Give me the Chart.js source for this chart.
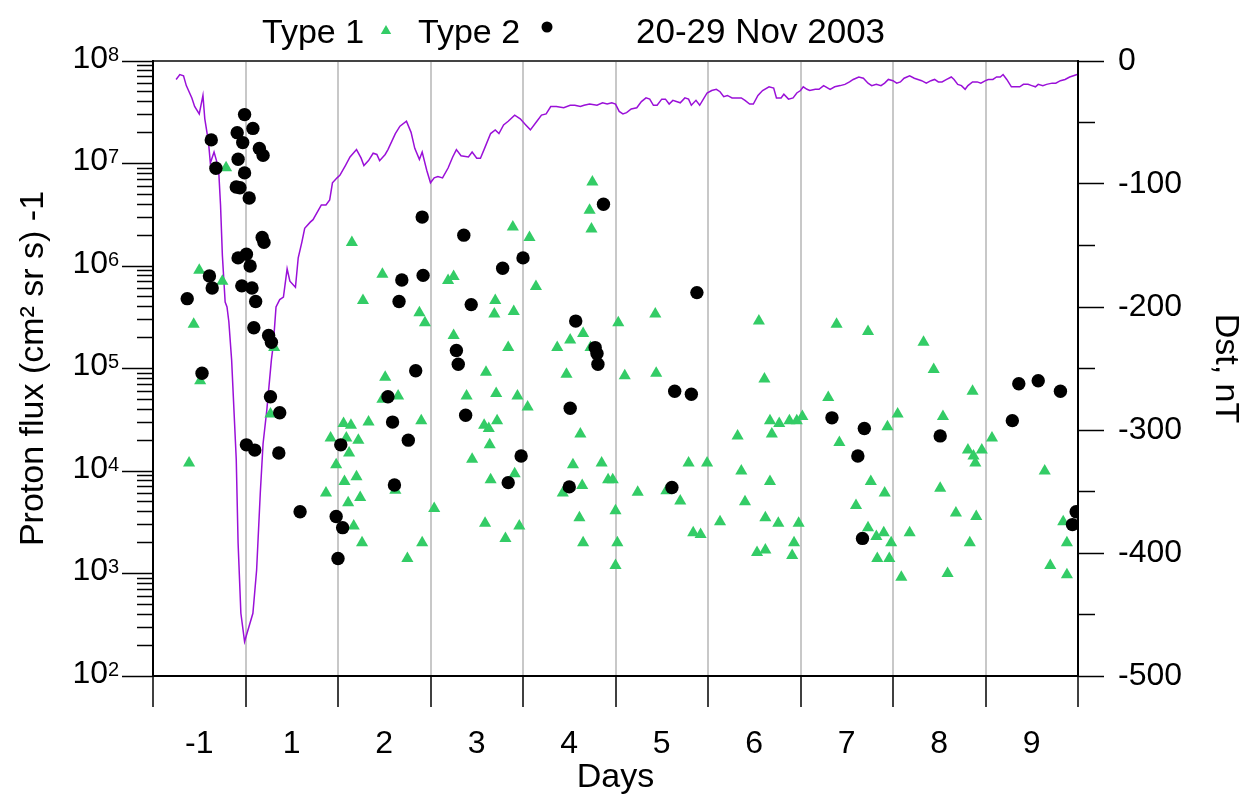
<!DOCTYPE html>
<html>
<head>
<meta charset="utf-8">
<script src="https://cdn.jsdelivr.net/npm/chart.js@4.4.0/dist/chart.umd.min.js"></script>
<style>
  html, body { margin: 0; padding: 0; background: #fff; }
  #wrap { width: 1252px; height: 806px; }
</style>
</head>
<body>
<div id="wrap"><canvas id="chart" width="1252" height="806"></canvas></div>
<script>
// x ticks: labels sit between the day boundaries
var xTickLabels = ['-1', '1', '2', '3', '4', '5', '6', '7', '8', '9'];
var fluxTicks = [1e2, 1e3, 1e4, 1e5, 1e6, 1e7, 1e8];
var dstTicks = [0, -50, -100, -150, -200, -250, -300, -350, -400, -450, -500];

// Type 1 (green triangles)
var type1Day = [-0.21, -0.50, -0.25, -0.56, 0.31, 1.15, 1.48, 1.27, -0.49, -0.61,
  0.27, 1.51, 1.48, 1.06, 1.14, 1.33, 0.92, 1.09, 1.22, 1.12,
  0.98, 1.07, 1.20, 0.87, 1.11, 1.24, 1.17, 1.26, 3.75, 3.72,
  3.74, 2.89, 3.07, 3.14, 2.19, 2.25, 2.70, 2.69, 2.90, 1.88,
  1.94, 2.25, 2.84, 3.37, 3.51, 3.65, 4.03, 3.73, 1.65, 1.90,
  1.62, 2.04, 1.91, 1.75, 2.60, 2.39, 2.71, 2.94, 3.05, 2.72,
  2.58, 2.63, 2.64, 2.45, 2.91, 2.65, 2.59, 2.96, 2.81, 3.47,
  3.62, 3.54, 3.85, 3.43, 3.64, 3.92, 3.97, 3.61, 4.00, 3.65,
  4.02, 4.00, 4.43, 5.55, 6.39, 4.10, 4.44, 5.61, 6.30, 5.67,
  5.77, 5.88, 5.96, 6.02, 5.69, 5.32, 6.42, 4.79, 4.99, 5.36,
  5.67, 4.24, 4.55, 4.70, 5.40, 5.13, 5.62, 5.76, 5.98, 4.84,
  4.92, 5.93, 5.53, 5.62, 5.91, 6.73, 7.33, 7.44, 7.86, 7.54,
  7.05, 6.94, 8.07, 7.81, 7.96, 7.87, 7.89, 6.76, 6.91, 7.51,
  8.64, 6.60, 7.68, 7.90, 6.73, 6.82, 6.90, 6.98, 7.18, 7.83,
  8.84, 8.88, 6.83, 6.96, 7.09, 7.59, 8.70, 8.88];
var type1Flux = [9.1e6, 9.1e5, 7.1e5, 2.7e5, 1.6e5, 1.7e6, 8.3e5, 4.6e5, 7.6e4, 1.2e4,
  3.6e4, 8.2e4, 5.0e4, 2.9e4, 2.8e4, 3.0e4, 2.1e4, 2.1e4, 2.0e4, 1.5e4,
  1.15e4, 7.9e3, 8.8e3, 6.1e3, 4.9e3, 5.5e3, 2.9e3, 2.0e3, 6.6e6, 3.5e6,
  2.3e6, 2.4e6, 1.9e6, 6.3e5, 7.2e5, 7.9e5, 4.6e5, 3.4e5, 3.6e5, 3.5e5,
  2.8e5, 2.1e5, 1.6e5, 1.6e5, 1.9e5, 2.2e5, 2.8e5, 1.6e5, 5.4e4, 3.1e4,
  6.5e3, 4.3e3, 2.0e3, 1.4e3, 9.2e4, 5.4e4, 5.7e4, 5.4e4, 4.2e4, 3.1e4,
  2.8e4, 2.6e4, 1.8e4, 1.3e4, 9.4e3, 8.2e3, 3.1e3, 2.9e3, 2.2e3, 8.8e4,
  2.3e4, 1.15e4, 1.2e4, 6.1e3, 7.2e3, 8.2e3, 8.2e3, 3.5e3, 4.1e3, 2.0e3,
  2.0e3, 1.2e3, 3.4e5, 2.9e5, 2.7e5, 8.5e4, 9.0e4, 7.9e4, 5.2e4, 3.1e4,
  2.9e4, 3.1e4, 3.1e4, 3.4e4, 2.3e4, 2.2e4, 1.9e4, 1.2e4, 1.2e4, 1.0e4,
  7.9e3, 6.2e3, 6.4e3, 5.1e3, 5.0e3, 3.2e3, 3.5e3, 3.1e3, 3.1e3, 2.5e3,
  2.4e3, 2.0e3, 1.6e3, 1.7e3, 1.5e3, 2.3e5, 1.8e5, 9.8e4, 6.0e4, 3.4e4,
  3.6e4, 2.7e4, 2.1e4, 1.6e4, 1.6e4, 1.4e4, 1.2e4, 7.9e3, 6.1e3, 6.8e3,
  1.0e4, 4.6e3, 3.9e3, 3.6e3, 2.8e3, 2.3e3, 2.5e3, 2.0e3, 2.5e3, 2.0e3,
  3.2e3, 2.0e3, 1.4e3, 1.4e3, 9.2e2, 1.0e3, 1.2e3, 9.7e2];

// Type 2 (black circles)
var type2Day = [-0.01, 0.08, -0.09, -0.37, -0.03, 0.15, 0.19, -0.08, -0.32, -0.01,
  -0.10, -0.06, 0.04, 0.18, 0.20, 0.01, -0.08, 0.05, -0.39, -0.36,
  -0.04, 0.07, -0.63, 0.11, 0.09, 0.25, 0.28, -0.47, 0.27, 0.37,
  0.01, 0.10, 0.36, 0.59, 1.03, 0.98, 1.05, 1.00, 1.54, 1.59,
  1.76, 1.61, 1.91, 2.36, 3.87, 3.00, 2.78, 1.69, 1.92, 1.66,
  2.44, 3.57, 3.78, 3.80, 2.28, 2.30, 1.84, 3.81, 2.38, 2.98,
  2.84, 3.51, 3.50, 4.88, 4.64, 4.82, 6.34, 4.61, 6.69, 6.62,
  6.67, 7.51, 8.36, 8.57, 8.81, 8.29, 8.98, 8.94];
var type2Flux = [3.0e7, 2.2e7, 2.0e7, 1.7e7, 1.6e7, 1.4e7, 1.2e7, 1.1e7, 9.0e6, 8.1e6,
  5.9e6, 5.8e6, 4.6e6, 1.9e6, 1.7e6, 1.3e6, 1.2e6, 1.0e6, 8.0e5, 6.1e5,
  6.4e5, 6.1e5, 4.8e5, 4.5e5, 2.5e5, 2.1e5, 1.8e5, 9.0e4, 5.3e4, 3.7e4,
  1.8e4, 1.6e4, 1.5e4, 4.0e3, 1.8e4, 3.6e3, 2.8e3, 1.4e3, 5.3e4, 3.0e4,
  2.0e4, 7.3e3, 3.0e6, 2.0e6, 4.0e6, 1.2e6, 9.5e5, 7.3e5, 8.1e5, 4.5e5,
  4.2e5, 2.9e5, 1.6e5, 1.4e5, 1.5e5, 1.1e5, 9.5e4, 1.1e5, 3.5e4, 1.4e4,
  7.7e3, 4.1e4, 7.0e3, 5.5e5, 6.0e4, 5.6e4, 3.3e4, 6.9e3, 2.6e4, 1.4e4,
  2.2e3, 2.2e4, 7.1e4, 7.6e4, 6.0e4, 3.1e4, 4.0e3, 3.0e3];

// Dst index (purple line, right axis)
var dstDay = [-0.75, -0.71, -0.67, -0.64, -0.58, -0.55, -0.50, -0.46, -0.44, -0.40,
  -0.38, -0.34, -0.31, -0.29, -0.27, -0.25, -0.22, -0.20, -0.18, -0.15,
  -0.10, -0.08, -0.05, -0.01, 0.08, 0.12, 0.16, 0.19, 0.23, 0.28,
  0.30, 0.33, 0.37, 0.41, 0.45, 0.48, 0.54, 0.57, 0.61, 0.64,
  0.70, 0.73, 0.79, 0.82, 0.87, 0.91, 0.94, 0.99, 1.02, 1.08,
  1.13, 1.20, 1.25, 1.28, 1.33, 1.38, 1.42, 1.45, 1.51, 1.54,
  1.62, 1.67, 1.74, 1.79, 1.83, 1.88, 1.91, 1.96, 2.00, 2.04,
  2.08, 2.13, 2.19, 2.24, 2.28, 2.33, 2.41, 2.45, 2.50, 2.54,
  2.59, 2.65, 2.70, 2.74, 2.79, 2.84, 2.91, 2.97, 3.03, 3.08,
  3.15, 3.20, 3.25, 3.30, 3.36, 3.44, 3.51, 3.56, 3.62, 3.66,
  3.72, 3.80, 3.86, 3.91, 3.96, 4.00, 4.04, 4.08, 4.12, 4.17,
  4.23, 4.28, 4.33, 4.37, 4.41, 4.45, 4.50, 4.54, 4.58, 4.62,
  4.70, 4.75, 4.79, 4.82, 4.87, 4.91, 4.95, 4.99, 5.04, 5.09,
  5.13, 5.17, 5.21, 5.26, 5.31, 5.36, 5.40, 5.45, 5.49, 5.54,
  5.59, 5.66, 5.71, 5.74, 5.79, 5.82, 5.87, 5.92, 5.96, 6.00,
  6.03, 6.07, 6.10, 6.16, 6.20, 6.25, 6.32, 6.37, 6.43, 6.48,
  6.53, 6.57, 6.63, 6.68, 6.73, 6.77, 6.82, 6.87, 6.91, 6.95,
  7.00, 7.04, 7.08, 7.12, 7.18, 7.23, 7.27, 7.31, 7.36, 7.41,
  7.45, 7.49, 7.53, 7.58, 7.63, 7.66, 7.70, 7.74, 7.78, 7.81,
  7.86, 7.91, 7.95, 8.00, 8.03, 8.08, 8.12, 8.16, 8.19, 8.23,
  8.28, 8.33, 8.37, 8.41, 8.46, 8.50, 8.54, 8.57, 8.62, 8.66,
  8.72, 8.76, 8.81, 8.86, 8.91, 8.95, 8.99];
var dstVal = [-15, -11, -12, -20, -30, -37, -43, -28, -47, -66,
  -83, -74, -82, -89, -117, -158, -196, -200, -212, -243,
  -324, -392, -449, -472, -449, -414, -351, -311, -284, -243,
  -231, -200, -194, -192, -169, -179, -184, -160, -147, -136,
  -131, -129, -121, -117, -117, -113, -99, -95, -93, -85,
  -78, -72, -79, -85, -81, -75, -76, -81, -76, -72,
  -59, -53, -49, -58, -71, -80, -74, -89, -99, -95,
  -94, -95, -87, -78, -72, -77, -78, -74, -79, -79,
  -70, -59, -56, -59, -52, -49, -44, -47, -52, -56,
  -49, -44, -43, -37, -37, -38, -36, -36, -37, -36,
  -35, -36, -34, -35, -34, -35, -41, -43, -42, -39,
  -38, -33, -30, -31, -36, -36, -31, -31, -35, -32,
  -34, -30, -31, -36, -32, -36, -31, -26, -24, -23,
  -25, -29, -28, -30, -30, -30, -32, -35, -35, -28,
  -24, -21, -22, -30, -30, -27, -31, -30, -26, -24,
  -21, -23, -24, -23, -23, -20, -23, -21, -20, -19,
  -17, -15, -13, -14, -18, -20, -19, -20, -18, -15,
  -16, -18, -17, -14, -12, -14, -15, -16, -18, -16,
  -15, -17, -17, -15, -13, -15, -19, -20, -23, -20,
  -17, -17, -18, -16, -15, -15, -13, -13, -11, -15,
  -21, -21, -21, -19, -19, -20, -21, -19, -20, -19,
  -18, -18, -16, -15, -13, -12, -11];

var FONT = '"Liberation Sans", Arial, Helvetica, sans-serif';
var GREEN = '#33cc66';
var PURPLE = '#9a10d8';
Chart.defaults.font.family = FONT;
Chart.defaults.color = '#000';

function pts(xs, ys) {
  return xs.map(function(x, i) { return {x: x, y: ys[i]}; });
}
function isInt(v) { return Math.abs(v - Math.round(v)) < 1e-9; }

// superscript decade labels, legend and date title
var decorPlugin = {
  id: 'decor',
  afterDraw: function(chart) {
    var ctx = chart.ctx;
    var ys = chart.scales.y;
    ctx.save();
    ctx.fillStyle = '#000';
    fluxTicks.forEach(function(v) {
      var py = ys.getPixelForValue(v);
      var ex = Math.round(Math.log10(v));
      ctx.font = '32px ' + FONT;
      ctx.textAlign = 'right';
      ctx.textBaseline = 'middle';
      ctx.fillText('10', ys.right - 45, py - 2);
      ctx.font = '20px ' + FONT;
      ctx.textAlign = 'left';
      ctx.fillText(String(ex), ys.right - 45, py - 6);
    });

    ctx.textAlign = 'left';
    ctx.textBaseline = 'alphabetic';
    ctx.font = '34px ' + FONT;
    ctx.fillText('Type 1', 262, 43);
    ctx.fillText('Type 2', 418, 43);
    ctx.font = '35px ' + FONT;
    ctx.fillText('20-29 Nov 2003', 636, 43);

    ctx.fillStyle = GREEN;
    ctx.strokeStyle = GREEN;
    Chart.helpers.drawPoint(ctx, {pointStyle: 'triangle', radius: 6, borderWidth: 0}, 386, 31);
    ctx.fillStyle = '#000';
    ctx.strokeStyle = '#000';
    Chart.helpers.drawPoint(ctx, {pointStyle: 'circle', radius: 5.5, borderWidth: 0}, 547, 27);
    ctx.restore();
  }
};

new Chart(document.getElementById('chart'), {
  type: 'scatter',
  data: {
    datasets: [{
      label: 'Type 2',
      data: pts(type2Day, type2Flux),
      xAxisID: 'x',
      yAxisID: 'y',
      pointStyle: 'circle',
      pointRadius: 6.7,
      pointBackgroundColor: '#000',
      pointBorderWidth: 0
    }, {
      label: 'Type 1',
      data: pts(type1Day, type1Flux),
      xAxisID: 'x',
      yAxisID: 'y',
      pointStyle: 'triangle',
      pointRadius: 7,
      pointBackgroundColor: GREEN,
      pointBorderWidth: 0
    }, {
      type: 'line',
      label: 'Dst',
      data: pts(dstDay, dstVal),
      xAxisID: 'x',
      yAxisID: 'y2',
      borderColor: PURPLE,
      borderWidth: 1.5,
      pointRadius: 0,
      tension: 0,
      fill: false
    }]
  },
  options: {
    responsive: false,
    animation: false,
    devicePixelRatio: 1,
    layout: { padding: { top: 61, left: 0, right: 0, bottom: 0 } },
    plugins: {
      legend: { display: false },
      tooltip: { enabled: false }
    },
    scales: {
      x: {
        type: 'linear',
        position: 'bottom',
        min: -1,
        max: 9,
        afterBuildTicks: function(s) {
          var t = [];
          for (var v = -1; v <= 9; v += 0.5) t.push({value: v});
          s.ticks = t;
        },
        afterFit: function(s) { s.height = 130; },
        grid: {
          color: function(c) {
            var v = c.tick ? c.tick.value : 0;
            return (isInt(v) && v > -1 && v < 9) ? '#c8c8c8' : 'rgba(0,0,0,0)';
          },
          lineWidth: 2,
          tickLength: 31,
          tickWidth: 1.5,
          tickColor: function(c) {
            return (c.tick && isInt(c.tick.value)) ? '#000' : 'rgba(0,0,0,0)';
          }
        },
        border: { color: '#000', width: 2 },
        ticks: {
          autoSkip: false,
          maxRotation: 0,
          padding: 18,
          font: { size: 32 },
          callback: function(v) {
            return isInt(v) ? '' : xTickLabels[Math.round(v + 0.5)];
          }
        },
        title: { display: true, text: 'Days', font: { size: 34 }, padding: { bottom: 8 } }
      },
      xTop: {
        type: 'linear',
        position: 'top',
        min: -1,
        max: 9,
        afterFit: function(s) { s.height = 0; },
        grid: { display: false },
        ticks: { display: false },
        border: { color: '#444', width: 2 }
      },
      y: {
        type: 'logarithmic',
        position: 'left',
        min: 1e2,
        max: 1e8,
        afterBuildTicks: function(s) {
          var t = [];
          for (var e = 2; e < 8; e++) {
            for (var d = 1; d < 10; d++) t.push({value: d * Math.pow(10, e), major: d === 1});
          }
          t.push({value: 1e8, major: true});
          s.ticks = t;
        },
        afterFit: function(s) { s.width = 153; },
        grid: {
          drawOnChartArea: false,
          tickLength: 31,
          tickWidth: 1.5,
          tickColor: '#000',
          tickBorderDash: function(c) { return (c.tick && c.tick.major) ? [] : [16, 15]; },
          tickBorderDashOffset: function(c) { return (c.tick && c.tick.major) ? 0 : 16; }
        },
        border: { color: '#000', width: 2 },
        ticks: { autoSkip: false, callback: function() { return ''; } },
        title: { display: true, text: 'Proton flux (cm\u00b2 sr s) -1', font: { size: 34 }, padding: { top: 13 } }
      },
      y2: {
        type: 'linear',
        position: 'right',
        min: -500,
        max: 0,
        afterBuildTicks: function(s) {
          s.ticks = dstTicks.map(function(v) { return {value: v}; });
        },
        afterFit: function(s) { s.width = 174; },
        grid: {
          drawOnChartArea: false,
          tickLength: 26,
          tickWidth: 1.5,
          tickColor: '#000',
          tickBorderDash: function(c) { return (c.tick && c.tick.value % 100 !== 0) ? [16, 100] : []; }
        },
        border: { color: '#000', width: 2 },
        ticks: {
          autoSkip: false,
          padding: 14,
          font: { size: 32 },
          callback: function(v) { return v % 100 === 0 ? String(v) : ''; }
        },
        title: { display: true, text: 'Dst, nT', font: { size: 34 }, padding: { top: 6 } }
      }
    }
  },
  plugins: [decorPlugin]
});
</script>
</body>
</html>
